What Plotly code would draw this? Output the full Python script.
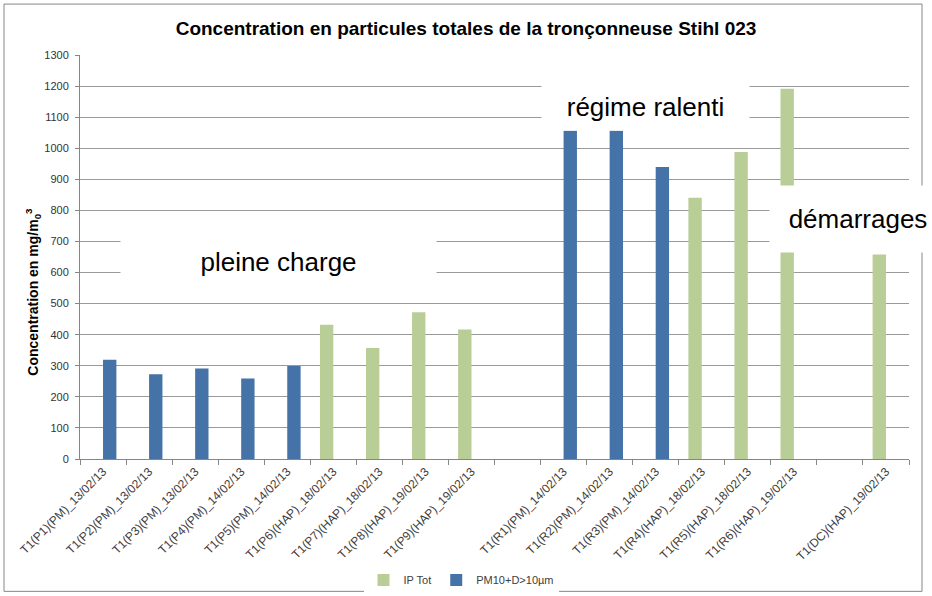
import plotly.graph_objects as go

categories = [
    "T1(P1)(PM)_13/02/13", "T1(P2)(PM)_13/02/13", "T1(P3)(PM)_13/02/13",
    "T1(P4)(PM)_14/02/13", "T1(P5)(PM)_14/02/13", "T1(P6)(HAP)_18/02/13",
    "T1(P7)(HAP)_18/02/13", "T1(P8)(HAP)_19/02/13", "T1(P9)(HAP)_19/02/13",
    " ",
    "T1(R1)(PM)_14/02/13", "T1(R2)(PM)_14/02/13", "T1(R3)(PM)_14/02/13",
    "T1(R4)(HAP)_18/02/13", "T1(R5)(HAP)_18/02/13", "T1(R6)(HAP)_19/02/13",
    "  ",
    "T1(DC)(HAP)_19/02/13",
]
ip_tot = [None, None, None, None, None, 432, 357, 472, 417, None,
          None, None, None, 841, 988, 1191, None, 658]
pm10 = [319, 273, 291, 259, 299, None, None, None, None, None,
        1056, 1056, 940, None, None, None, None, None]
y_ticks = list(range(0, 1301, 100))

GREEN = "#B9CD96"
BLUE = "#4572A7"

fig = go.Figure()
fig.add_trace(go.Bar(x=categories, y=ip_tot, name="IP Tot",
                     marker=dict(color=GREEN, line=dict(width=0))))
fig.add_trace(go.Bar(x=categories, y=pm10, name="PM10+D>10µm",
                     marker=dict(color=BLUE, line=dict(width=0))))

# pixel geometry helpers (plot area 80..909 x 55..459.5)
L, R, T, B = 80, 909, 55, 459.5
W, H = R - L, B - T
def px(x):
    return (x - L) / W
def py(y):
    return (B - y) / H

fig.update_layout(
    width=932, height=596,
    margin=dict(l=L, r=932 - R, t=T, b=596 - B, autoexpand=False),
    paper_bgcolor="white", plot_bgcolor="white",
    barmode="group", bargap=0.42, bargroupgap=0,
    font=dict(family="Liberation Sans, Arial, sans-serif", color="#333333"),
    title=dict(text="<b>Concentration en particules totales de la tronçonneuse Stihl 023</b>",
               x=0.5, xanchor="center", y=1 - 28 / 596, yanchor="middle",
               font=dict(size=19, color="#000000")),
    showlegend=True,
    legend=dict(orientation="h", x=px(461), xanchor="center",
                yref="container", y=1 - 580 / 596, yanchor="middle",
                font=dict(size=11, color="#404040"), traceorder="normal"),
    xaxis=dict(type="category", categoryorder="array", categoryarray=categories,
               tickson="boundaries", ticks="outside", ticklen=5, tickcolor="#868686",
               showline=True, linecolor="#868686", linewidth=1,
               showgrid=False, tickangle=-45, tickfont=dict(size=12, color="#404040"),
               range=[-0.5, len(categories) - 0.5]),
    yaxis=dict(range=[0, 1300], tickvals=y_ticks, ticks="outside", ticklen=4,
               tickcolor="#868686", showline=True, linecolor="#868686", linewidth=1,
               showgrid=True, gridcolor="#9A9A9A", gridwidth=1, zeroline=False,
               tickfont=dict(size=11, color="#333333"), ticklabelstandoff=4),
)

# chart frame
fig.add_shape(type="rect", xref="paper", yref="paper",
              x0=px(4), x1=px(922), y0=py(592), y1=py(4),
              line=dict(color="#868686", width=1), layer="above")

# y axis title
fig.add_annotation(xref="paper", yref="paper", x=px(33), y=py(292),
                   xanchor="center", yanchor="middle", textangle=-90, showarrow=False,
                   text="<b>Concentration en mg/m<sub>0</sub><sup>3</sup></b>",
                   font=dict(size=14, color="#000000"))

# regime labels with white boxes
boxes = [
    ("pleine charge", 278.5, 262, 315, 56),
    ("régime ralenti", 645.5, 107, 207, 46),
    ("démarrages", 858, 219, 176, 66),
]
for txt, cx, cy, bw, bh in boxes:
    fig.add_annotation(xref="paper", yref="paper", x=px(cx), y=py(cy),
                       xanchor="center", yanchor="middle", showarrow=False,
                       text=txt, width=bw, height=bh, bgcolor="white", borderpad=0,
                       font=dict(size=26, color="#000000"))

fig.write_html("out.html", config={"displayModeBar": False},
               post_script="document.body.style.margin='0';document.body.style.overflow='hidden';")
